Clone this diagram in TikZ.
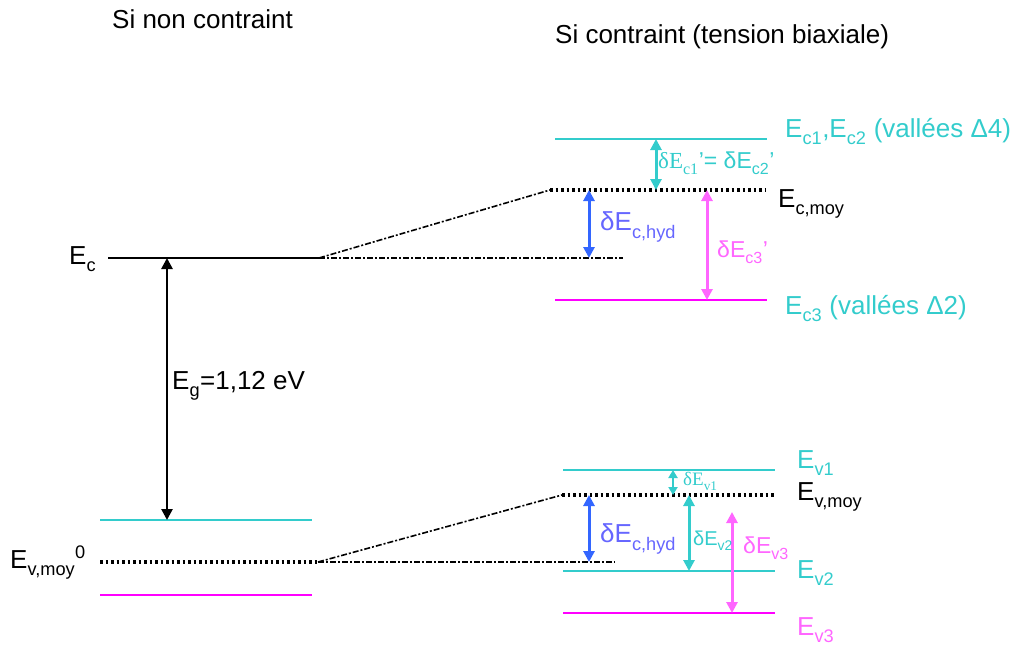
\documentclass[tikz,border=0pt]{standalone}
\usepackage{fontspec}
\setmainfont{Liberation Sans}
\newfontfamily\tnr{Liberation Serif}
\usetikzlibrary{arrows.meta}
\definecolor{siCyan}{HTML}{33CCCC}
\definecolor{siMag}{HTML}{FF00FF}
\definecolor{siPink}{HTML}{FF66FF}
\definecolor{siBlue}{HTML}{3366FF}
\definecolor{siLav}{HTML}{6666FF}
\newcommand{\sz}[1]{\fontsize{#1}{#1}\selectfont}
\newcommand{\lo}[1]{\raisebox{-.14em}{\textsubscript{#1}}}
\tikzset{
  lvl/.style={line width=2.6pt},
  moy/.style={line width=3.8pt,dash pattern=on 2.5pt off 3pt},
  ramp/.style={line width=1.6pt,dash pattern=on 6pt off 2pt on 2pt off 2pt},
  arr/.style={{Triangle[length=11pt,width=11pt]}-{Triangle[length=11pt,width=11pt]},line width=3pt},
  sarr/.style={{Triangle[length=8pt,width=9pt]}-{Triangle[length=8pt,width=9pt]},line width=2.2pt},
  lab/.style={anchor=base west,inner sep=0pt,font=\sz{26}},
}

\begin{document}
\begin{tikzpicture}[x=1pt,y=-1pt]
  \useasboundingbox (0,0) rectangle (1021,646);
  \node[lab] (t1) at (112,28) {Si non contraint};
  \node[lab] (t2) at (555,43) {Si contraint (tension biaxiale)};

  \coordinate (ca) at (108,258);  \coordinate (cb) at (319,258);
  \coordinate (va) at (100,520);  \coordinate (vb) at (312,520);
  \coordinate (ma) at (100,562);  \coordinate (mb) at (318,562);
  \coordinate (sa) at (100,595);  \coordinate (sb) at (312,595);
  \draw[lvl] (ca) -- (cb);
  \draw[lvl,siCyan] (va) -- (vb);
  \draw[moy,line width=3.2pt] (ma) -- (mb);
  \draw[lvl,siMag] (sa) -- (sb);
  \node[lab] (ec) at (69,264) {E\lo{c}};
  \node[lab] (ev0) at (10,568) {E\lo{v,moy}\textsuperscript{0}};
  \coordinate (kg) at (167,0);
  \draw[arr,line width=2.6pt] (ca -| kg) -- (va -| kg);
  \node[lab] (eg) at (172,389) {E\lo{g}=1,12 eV};

  \coordinate (c1a) at (555,139); \coordinate (c1b) at (767,139);
  \coordinate (cma) at (550,190); \coordinate (cmb) at (765,190);
  \coordinate (c3a) at (555,300); \coordinate (c3b) at (767,300);
  \coordinate (ch) at (623,258);
  \draw[lvl,siCyan] (c1a) -- (c1b);
  \draw[moy] (cma) -- (cmb);
  \draw[lvl,siMag] (c3a) -- (c3b);
  \draw[ramp] (cb) -- (cma);
  \draw[ramp] (cb) -- (ch);
  \coordinate (k1) at (656,0); \coordinate (k2) at (589,0); \coordinate (k3) at (707,0);
  \draw[arr,siCyan] (c1a -| k1) -- (cma -| k1);
  \draw[arr,siBlue] (cma -| k2) -- (ch -| k2);
  \draw[arr,siPink] (cma -| k3) -- (c3a -| k3);
  \node[lab,siCyan] (lc1) at (785,137) {E\lo{c1},E\lo{c2} (vallées Δ4)};
  \node[lab] (lcm) at (778,207) {E\lo{c,moy}};
  \node[lab,siCyan] (lc3) at (785,314) {E\lo{c3} (vallées Δ2)};
  \node[lab,siCyan,font=\sz{23}] (d1) at (658,168) {{\tnr δE\lo{c1}}’= δE\lo{c2}’};
  \node[lab,siLav] (d2) at (600,230) {δE\lo{c,hyd}};
  \node[lab,siPink,font=\sz{23}] (d3) at (717,257) {δE\lo{c3}’};

  \coordinate (v1a) at (563,470); \coordinate (v1b) at (775,470);
  \coordinate (vma) at (562,495); \coordinate (vmb) at (775,495);
  \coordinate (v2a) at (563,571); \coordinate (v2b) at (775,571);
  \coordinate (v3a) at (563,613); \coordinate (v3b) at (775,613);
  \coordinate (vh) at (615,562);
  \draw[lvl,siCyan] (v1a) -- (v1b);
  \draw[moy] (vma) -- (vmb);
  \draw[lvl,siCyan] (v2a) -- (v2b);
  \draw[lvl,siMag] (v3a) -- (v3b);
  \draw[ramp] (mb) -- (vma);
  \draw[ramp] (mb) -- (vh);
  \coordinate (k4) at (673,0); \coordinate (k5) at (689,0); \coordinate (p3) at (732,512);
  \draw[sarr,siCyan] (v1a -| k4) -- (vma -| k4);
  \draw[arr,siBlue] (vma -| k2) -- (vh -| k2);
  \draw[arr,siCyan] (vma -| k5) -- (v2a -| k5);
  \draw[arr,siPink] (p3) -- (v3a -| p3);
  \node[lab,siCyan] (lv1) at (797,468) {E\lo{v1}};
  \node[lab] (lvm) at (797,500) {E\lo{v,moy}};
  \node[lab,siCyan] (lv2) at (797,578) {E\lo{v2}};
  \node[lab,siPink] (lv3) at (797,635) {E\lo{v3}};
  \node[lab,siCyan,font=\sz{19}\tnr] (e1) at (683,485) {δE\lo{v1}};
  \node[lab,siLav] (e2) at (600,542) {δE\lo{c,hyd}};
  \node[lab,siCyan,font=\sz{20}] (e3) at (693,545) {δE\lo{v2}};
  \node[lab,siPink,font=\sz{23}] (e4) at (743,553) {δE\lo{v3}};
\end{tikzpicture}
\end{document}
